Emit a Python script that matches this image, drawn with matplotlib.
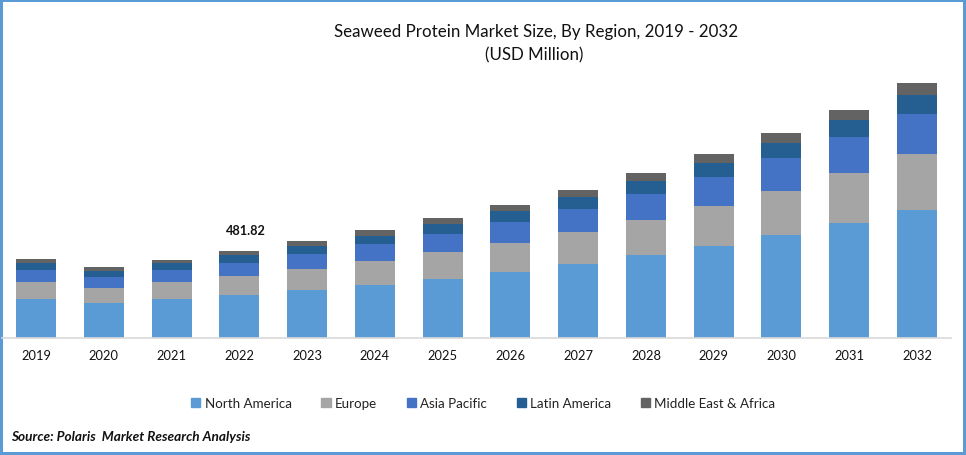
import matplotlib

matplotlib.use("Agg")  # headless
import matplotlib.pyplot as plt
import numpy as np
from matplotlib.patches import Patch

YEARS = [str(y) for y in range(2019, 2033)]

# USD million (2022 total is labelled 481.82)
NORTH_AMERICA = [216, 194, 216, 238, 266, 294, 327, 366, 410, 460, 510, 570, 637, 709]
EUROPE = [94, 83, 94, 105, 116, 133, 150, 161, 177, 194, 222, 244, 277, 310]
ASIA_PACIFIC = [66, 61, 66, 72, 83, 94, 100, 116, 127, 144, 161, 183, 199, 222]
LATIN_AMERICA = [39, 33, 39, 44, 44, 44, 55, 61, 66, 72, 78, 83, 94, 105]
MIDDLE_EAST_AFRICA = [22, 22, 17, 23, 28, 33, 33, 33, 39, 44, 50, 55, 55, 66]

SERIES = [
    ("North America", NORTH_AMERICA, "#5B9BD5"),
    ("Europe", EUROPE, "#A5A5A5"),
    ("Asia Pacific", ASIA_PACIFIC, "#4472C4"),
    ("Latin America", LATIN_AMERICA, "#255E91"),
    ("Middle East & Africa", MIDDLE_EAST_AFRICA, "#636363"),
]

W, H = 966, 456


def main() -> None:
    plt.rcParams["font.family"] = ["Lato", "DejaVu Sans"]

    fig = plt.figure(figsize=(W / 100, H / 100), dpi=100)
    fig.patch.set_edgecolor("#5B9BD5")
    fig.patch.set_linewidth(2.9)

    ax = fig.add_axes([2.1 / W, (H - 339) / H, 948.8 / W, 268 / H])
    ax.patch.set_visible(False)  # or it paints over the frame

    x = np.arange(len(YEARS))
    bottom = np.zeros(len(YEARS))
    for name, values, color in SERIES:
        ax.bar(x, values, 0.59, bottom=bottom, color=color, label=name)
        bottom += np.array(values)

    ax.set_xlim(-0.5, len(YEARS) - 0.5)
    ax.set_ylim(0, 1484)
    ax.set_xticks(x)
    ax.set_xticklabels(YEARS, fontsize=9.3, color="#111111")
    ax.tick_params(axis="x", length=0, pad=8.2)
    ax.set_yticks([])
    for side in ("top", "left", "right"):
        ax.spines[side].set_visible(False)
    ax.spines["bottom"].set_color("#D9D9D9")
    ax.spines["bottom"].set_linewidth(1.2)

    ax.annotate(
        "481.82",
        xy=(3, bottom[3]),
        xytext=(5, 15),
        textcoords="offset points",
        ha="center",
        va="center",
        fontsize=9.2,
        fontweight="bold",
        color="#111111",
    )

    fig.text(536 / W, 1 - 32 / H, "Seaweed Protein Market Size, By Region, 2019 - 2032",
             ha="center", va="center", fontsize=12.2, color="#111111")
    fig.text(534 / W, 1 - 55 / H, "(USD Million)",
             ha="center", va="center", fontsize=12.2, color="#111111")

    handles = [Patch(color=color, label=name) for name, _, color in SERIES]
    fig.legend(
        handles=handles,
        loc="center",
        bbox_to_anchor=(483.5 / W, 1 - 404 / H),
        ncols=5,
        frameon=False,
        fontsize=9.6,
        handlelength=0.68,
        handleheight=0.68,
        handletextpad=0.35,
        columnspacing=2.2,
        labelcolor="#222222",
    )

    fig.text(11 / W, 1 - 437 / H, "Source: Polaris  Market Research Analysis",
             ha="left", va="center", fontsize=9.8, fontweight="bold", fontstyle="italic",
             color="#111111")

    fig.savefig("out.png", dpi=100)
    plt.close(fig)


if __name__ == "__main__":
    main()
